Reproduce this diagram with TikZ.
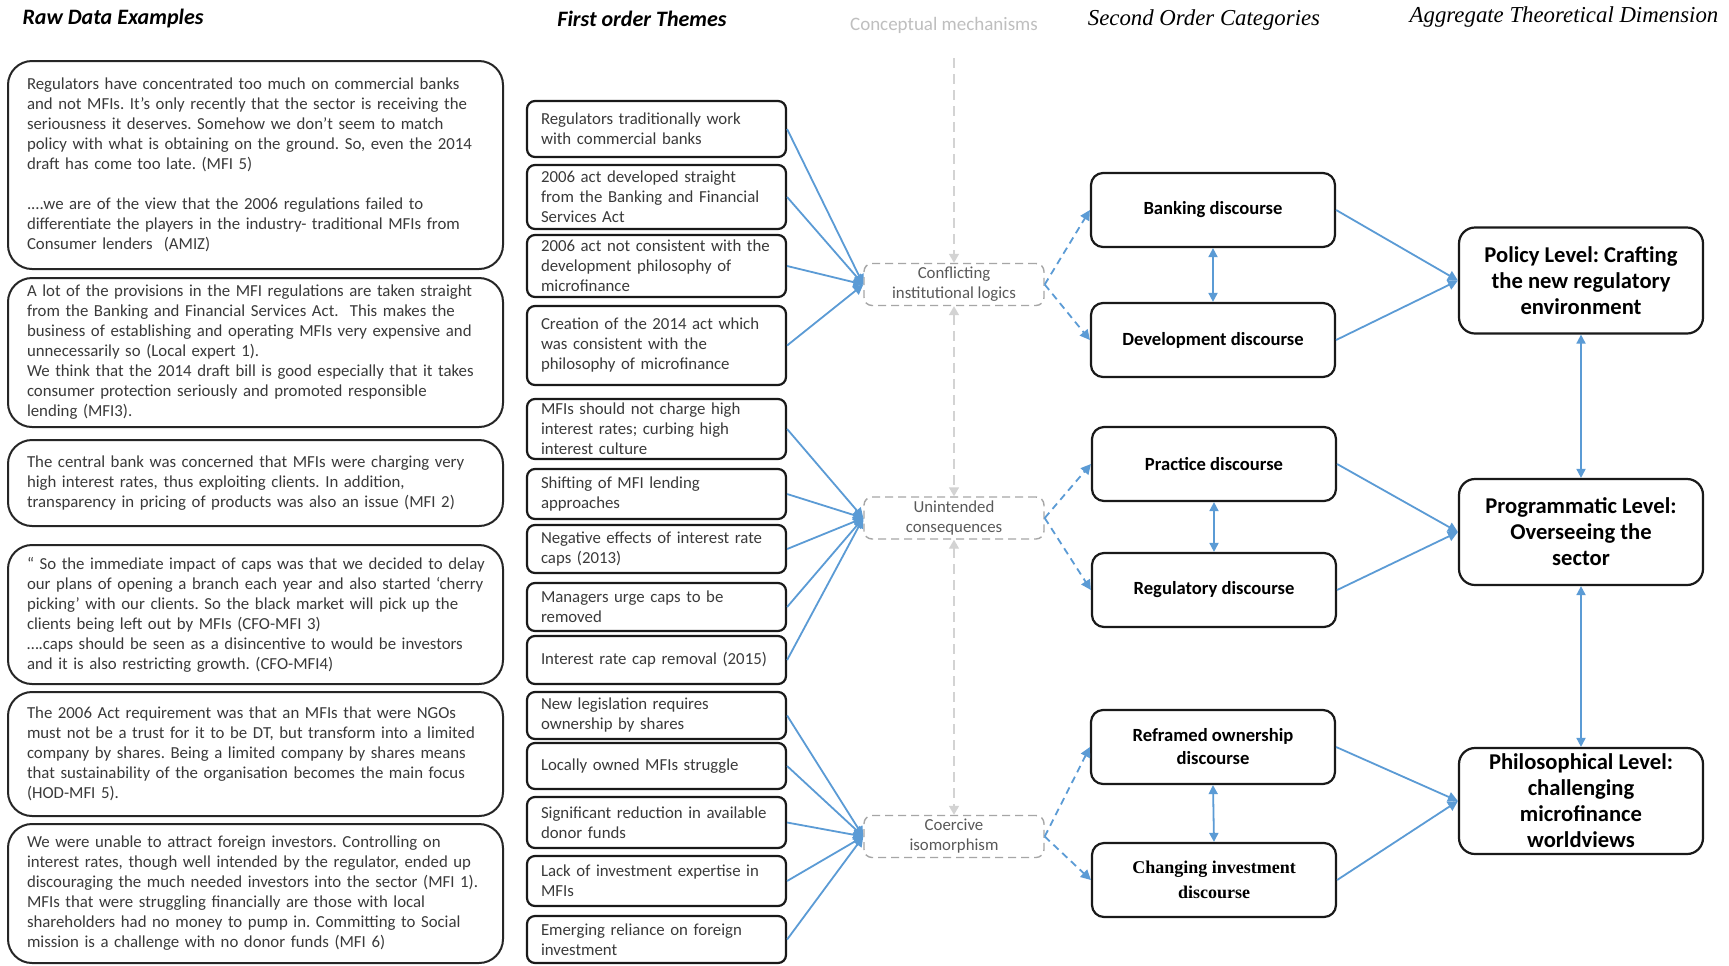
\documentclass[tikz,border=0pt]{standalone}
\usepackage{fontspec}
\setmainfont{Carlito}
\newfontfamily\tnr{Liberation Serif}
\usetikzlibrary{arrows.meta}
\definecolor{lnblue}{HTML}{5B9BD5}
\definecolor{txtgray}{HTML}{3A3A3A}
\definecolor{mechgray}{HTML}{A6A6A6}
\definecolor{mechtext}{HTML}{595959}
\definecolor{axisgray}{HTML}{D3D3D3}
\definecolor{headgray}{HTML}{BFBFBF}
\frenchspacing
\hyphenpenalty=10000
\exhyphenpenalty=10000
\begin{document}
\begin{tikzpicture}[x=0.5pt,y=-0.5pt,
  hdsans/.style={font=\bfseries\itshape\fontsize{11}{13}\selectfont, inner sep=0pt},
  hdserif/.style={font=\tnr\itshape\fontsize{11.4}{13}\selectfont, inner sep=0pt},
  hdgray/.style={font=\fontsize{9.5}{11}\selectfont, text=headgray, inner sep=0pt},
  rawbox/.style={draw=black!85, line width=1pt, rounded corners=12pt, inner xsep=9.5pt, inner ysep=1pt,
    text width=228.5pt, minimum width=247.5pt, align=left, font=\fontsize{8.4}{10}\selectfont, text=txtgray},
  fobox/.style={draw=black!90, line width=1.1pt, rounded corners=4pt, inner xsep=7pt, inner ysep=1pt,
    text width=115.5pt, align=left, font=\fontsize{8.4}{10}\selectfont, text=txtgray},
  mechbox/.style={draw=mechgray, dash pattern=on 4pt off 2.5pt, line width=0.7pt, rounded corners=4pt,
    minimum width=90pt, minimum height=21pt, inner sep=1pt, align=center,
    font=\fontsize{8.4}{10}\selectfont, text=mechtext},
  sobox/.style={draw=black!90, line width=1.1pt, rounded corners=6pt, minimum width=122pt, minimum height=37pt,
    inner sep=1pt, align=center, font=\bfseries\fontsize{9.3}{11.5}\selectfont},
  agbox/.style={draw=black!90, line width=1.1pt, rounded corners=8pt, minimum width=122pt, minimum height=53pt,
    inner sep=1pt, align=center, font=\bfseries\fontsize{11.3}{13}\selectfont},
  bluearrow/.style={draw=lnblue, line width=0.9pt, -{Triangle[length=5pt,width=5pt]}, fill=lnblue},
  bluedouble/.style={draw=lnblue, line width=0.9pt, {Triangle[length=4.5pt,width=4.5pt]}-{Triangle[length=4.5pt,width=4.5pt]}},
  bluedash/.style={draw=lnblue, line width=0.9pt, dash pattern=on 3.5pt off 2.5pt, -{Triangle[length=5pt,width=5pt]}},
  grayarrow/.style={draw=axisgray, line width=0.7pt, dash pattern=on 5pt off 3pt, -{Triangle[length=4.5pt,width=5pt]}},
  graydouble/.style={draw=axisgray, line width=0.7pt, dash pattern=on 5pt off 3pt,
    {Triangle[length=4.5pt,width=5pt]}-{Triangle[length=4.5pt,width=5pt]}}
]
\fill[white] (0,0) rectangle (1729,965);
\useasboundingbox (0,0) rectangle (1729,965);

% headers
\node[hdsans] (hRaw) at (113,19) {Raw Data Examples};
\node[hdsans] (hFirst) at (642,19) {First order Themes};
\node[hdgray] (hMech) at (944,25) {Conceptual mechanisms};
\node[hdserif] (hSecond) at (1204,20) {Second Order Categories};
\node[hdserif] (hAgg) at (1564,17) {Aggregate Theoretical Dimension};

% raw data boxes
\node[rawbox, minimum height=104pt] (r1) at (255.5,165) {Regulators have concentrated too much on commercial banks\\
and not MFIs. It’s only recently that the sector is receiving the\\
seriousness it deserves. Somehow we don’t seem to match\\
policy with what is obtaining on the ground. So, even the 2014\\
draft has come too late. (MFI 5)\\[10pt]
....we are of the view that the 2006 regulations failed to\\
differentiate the players in the industry- traditional MFIs from\\
Consumer lenders~ (AMIZ)};
\node[rawbox, minimum height=74.5pt] (r2) at (255.5,352.5) {A lot of the provisions in the MFI regulations are taken straight\\
from the Banking and Financial Services Act.~ This makes the\\
business of establishing and operating MFIs very expensive and\\
unnecessarily so (Local expert 1).\\
We think that the 2014 draft bill is good especially that it takes\\
consumer protection seriously and promoted responsible\\
lending (MFI3).};
\node[rawbox, minimum height=43pt] (r3) at (255.5,483) {The central bank was concerned that MFIs were charging very\\
high interest rates, thus exploiting clients. In addition,\\
transparency in pricing of products was also an issue (MFI 2)};
\node[rawbox, minimum height=69.5pt] (r4) at (255.5,614.5) {\mbox{“ So the immediate impact of caps was that we decided to delay}\\
our plans of opening a branch each year and also started ‘cherry\\
picking’ with our clients. So the black market will pick up the\\
clients being left out by MFIs (CFO-MFI 3)\\
….caps should be seen as a disincentive to would be investors\\
and it is also restricting growth. (CFO-MFI4)};
\node[rawbox, minimum height=62pt] (r5) at (255.5,754) {The 2006 Act requirement was that an MFIs that were NGOs\\
must not be a trust for it to be DT, but transform into a limited\\
company by shares. Being a limited company by shares means\\
that sustainability of the organisation becomes the main focus\\
(HOD-MFI 5).};
\node[rawbox, minimum height=69.5pt] (r6) at (255.5,893.5) {We were unable to attract foreign investors. Controlling on\\
interest rates, though well intended by the regulator, ended up\\
discouraging the much needed investors into the sector (MFI 1).\\
MFIs that were struggling financially are those with local\\
shareholders had no money to pump in. Committing to Social\\
mission is a challenge with no donor funds (MFI 6)};

% first order themes
\node[fobox, minimum height=28pt] (f1) at (656.5,129) {Regulators traditionally work\\with commercial banks};
\node[fobox, minimum height=32pt] (f2) at (656.5,197) {2006 act developed straight\\from the Banking and Financial\\Services Act};
\node[fobox, minimum height=31pt] (f3) at (656.5,266) {2006 act not consistent with the\\development philosophy of\\microfinance};
\node[fobox, minimum height=39.5pt] (f4) at (656.5,345.5) {Creation of the 2014 act which\\was consistent with the\\philosophy of microfinance};
\node[fobox, minimum height=30pt] (f5) at (656.5,429) {MFIs should not charge high\\interest rates; curbing high\\interest culture};
\node[fobox, minimum height=25pt] (f6) at (656.5,494) {Shifting of MFI lending\\approaches};
\node[fobox, minimum height=24pt] (f7) at (656.5,549) {Negative effects of interest rate\\caps (2013)};
\node[fobox, minimum height=24pt] (f8) at (656.5,607) {Managers urge caps to be\\removed};
\node[fobox, minimum height=24pt] (f9) at (656.5,660) {Interest rate cap removal (2015)};
\node[fobox, minimum height=23.5pt] (f10) at (656.5,715.5) {New legislation requires\\ownership by shares};
\node[fobox, minimum height=23pt] (f11) at (656.5,766) {Locally owned MFIs struggle};
\node[fobox, minimum height=25.5pt] (f12) at (656.5,822.5) {Significant reduction in available\\donor funds};
\node[fobox, minimum height=25pt] (f13) at (656.5,881) {Lack of investment expertise in\\MFIs};
\node[fobox, minimum height=23.5pt] (f14) at (656.5,939.5) {Emerging reliance on foreign\\investment};

% conceptual mechanisms
\node[mechbox] (m1) at (954,284.5) {Conflicting\\institutional logics};
\node[mechbox] (m2) at (954,518) {Unintended\\consequences};
\node[mechbox] (m3) at (954,836.5) {Coercive\\isomorphism};
\coordinate (gtop) at (954,58);

% second order categories
\node[sobox] (s1) at (1213,210) {Banking discourse};
\node[sobox] (s2) at (1213,340) {Development discourse};
\node[sobox] (s3) at (1214,464) {Practice discourse};
\node[sobox] (s4) at (1214,590) {Regulatory discourse};
\node[sobox] (s5) at (1213,747) {Reframed ownership\\discourse};
\node[sobox, font=\tnr\bfseries\fontsize{9}{12.5}\selectfont] (s6) at (1214,880) {Changing investment\\discourse};

% aggregate dimensions
\node[agbox] (a1) at (1581,280.5) {Policy Level: Crafting\\the new regulatory\\environment};
\node[agbox] (a2) at (1581,532) {Programmatic Level:\\Overseeing the\\sector};
\node[agbox] (a3) at (1581,801) {Philosophical Level:\\challenging\\microfinance\\worldviews};

% gray mechanism axis
\draw[grayarrow] (gtop) -- (m1.north);
\draw[graydouble] (m1.south) -- (m2.north);
\draw[graydouble] (m2.south) -- (m3.north);

% first order -> mechanisms
\foreach \f in {f1,f2,f3,f4} \draw[bluearrow] (\f.east) -- (m1.west);
\foreach \f in {f5,f6,f7,f8,f9} \draw[bluearrow] (\f.east) -- (m2.west);
\foreach \f in {f10,f11,f12,f13,f14} \draw[bluearrow] (\f.east) -- (m3.west);

% mechanisms -> second order
\draw[bluedash] (m1.east) -- (s1.west);
\draw[bluedash] (m1.east) -- (s2.west);
\draw[bluedash] (m2.east) -- (s3.west);
\draw[bluedash] (m2.east) -- (s4.west);
\draw[bluedash] (m3.east) -- (s5.west);
\draw[bluedash] (m3.east) -- (s6.west);

% second order pairs
\draw[bluedouble] (s1.south) -- (s2.north);
\draw[bluedouble] (s3.south) -- (s4.north);
\draw[bluedouble] (s5.south) -- (s6.north);

% second order -> aggregate
\draw[bluearrow] (s1.east) -- (a1.west);
\draw[bluearrow] (s2.east) -- (a1.west);
\draw[bluearrow] (s3.east) -- (a2.west);
\draw[bluearrow] (s4.east) -- (a2.west);
\draw[bluearrow] (s5.east) -- (a3.west);
\draw[bluearrow] (s6.east) -- (a3.west);

% aggregate links
\draw[bluedouble] (a1.south) -- (a2.north);
\draw[bluedouble] (a2.south) -- (a3.north);
\end{tikzpicture}
\end{document}
